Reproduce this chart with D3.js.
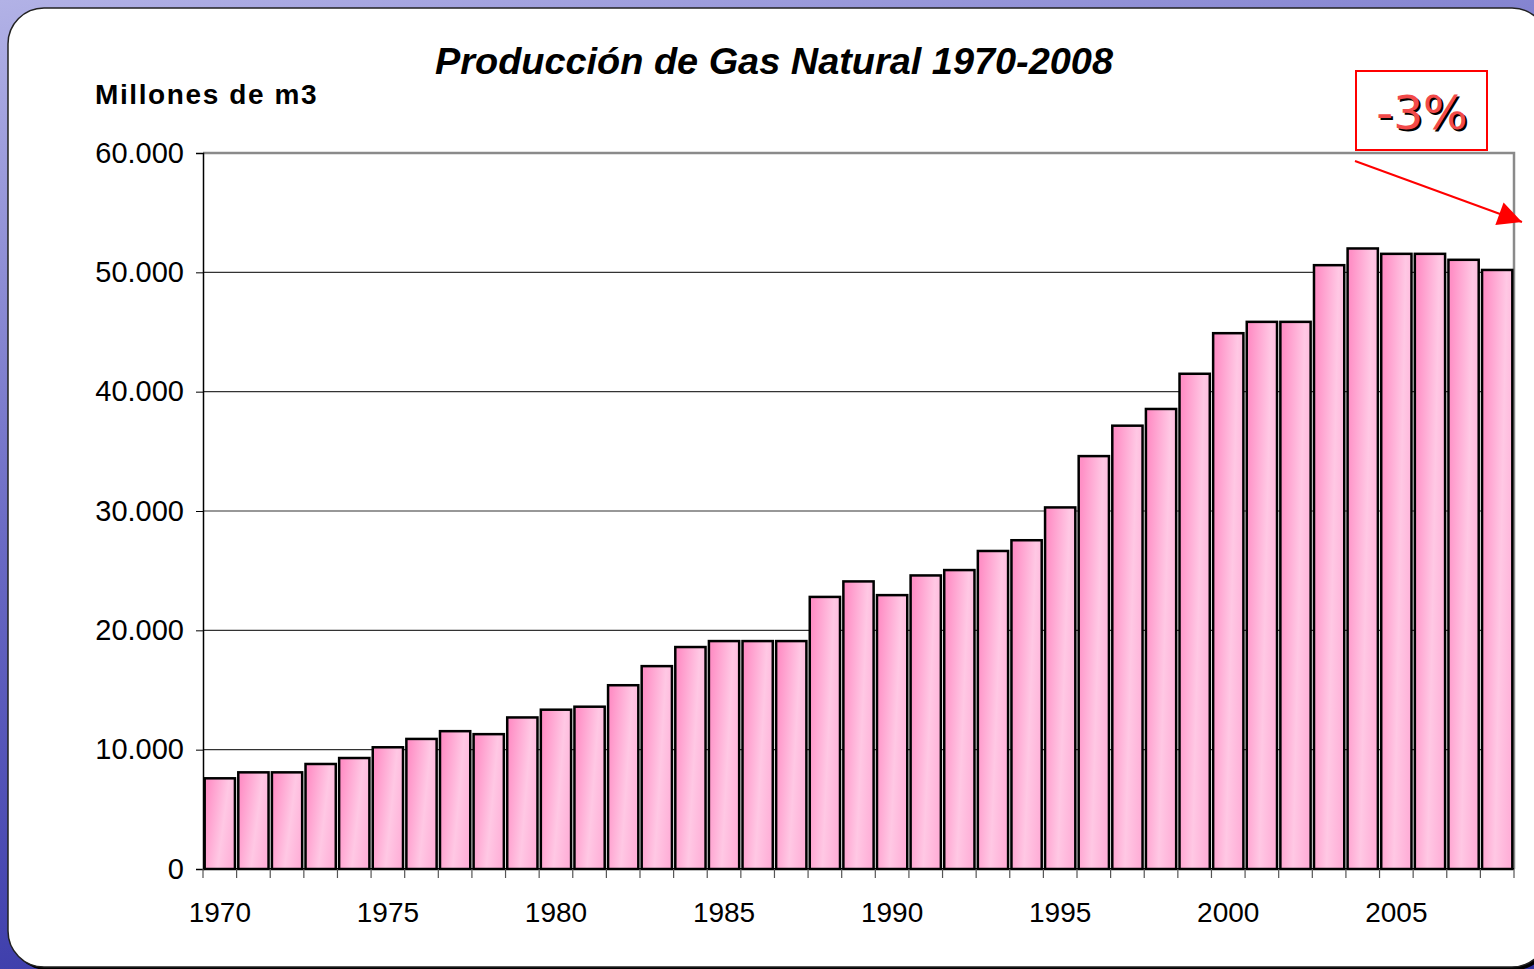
<!DOCTYPE html>
<html>
<head>
<meta charset="utf-8">
<script src="https://cdn.jsdelivr.net/npm/d3@7"></script>
<style>
  html, body { margin: 0; padding: 0; overflow: hidden; }
  svg { display: block; font-family: "Liberation Sans", Arial, sans-serif; }
</style>
</head>
<body>
<svg id="chart" width="1534" height="969"></svg>
<script>
// chart data
const years = d3.range(1970, 2009).map(String);
const production = [
  7600, 8100, 8100, 8800, 9300, 10200, 10900, 11550, 11300, 12700,
  13350, 13600, 15400, 17000, 18600, 19100, 19100, 19100, 22800, 24100,
  22950, 24600, 25050, 26650, 27550, 30300, 34600, 37150, 38550, 41500,
  44900, 45850, 45850, 50600, 52000, 51550, 51550, 51050, 50200
];
const yTicks = [0, 10000, 20000, 30000, 40000, 50000, 60000];
const xLabelYears = ['1970', '1975', '1980', '1985', '1990', '1995', '2000', '2005'];
const title = 'Producción de Gas Natural 1970-2008';
const unitLabel = 'Millones de m3';
const changeLabel = '-3%';

const margin = { top: 153, right: 20, bottom: 100, left: 203 };
const width = 1534, height = 969;
const innerW = 1514 - margin.left;
const innerH = 869 - margin.top;

const svg = d3.select('#chart');
const defs = svg.append('defs');

// background gradient (blue slide)
const bg = defs.append('linearGradient').attr('id', 'bg')
  .attr('x1', 0).attr('y1', 0).attr('x2', 0.35).attr('y2', 1);
bg.append('stop').attr('offset', 0).attr('stop-color', '#b2b2e6');
bg.append('stop').attr('offset', 0.5).attr('stop-color', '#6a6ac4');
bg.append('stop').attr('offset', 1).attr('stop-color', '#3434a6');

// bar gradient
const barGrad = defs.append('linearGradient').attr('id', 'barGrad')
  .attr('x1', 0).attr('y1', 0.3).attr('x2', 1).attr('y2', 0.7);
barGrad.append('stop').attr('offset', 0).attr('stop-color', '#ff90c6');
barGrad.append('stop').attr('offset', 0.6).attr('stop-color', '#ffc8e4');
barGrad.append('stop').attr('offset', 1).attr('stop-color', '#ffb0d8');

defs.append('marker').attr('id', 'arrowHead')
  .attr('viewBox', '0 0 10 10').attr('refX', 10).attr('refY', 5)
  .attr('markerWidth', 30).attr('markerHeight', 24)
  .attr('markerUnits', 'userSpaceOnUse')
  .attr('orient', 'auto')
  .append('path').attr('d', 'M0,0 L10,5 L0,10 Z').attr('fill', '#ff0000');

svg.append('rect').attr('width', width).attr('height', height).attr('fill', 'url(#bg)');

// white card with shadow
svg.append('rect')
  .attr('x', 11).attr('y', 11).attr('width', 1540).attr('height', 959)
  .attr('rx', 36).attr('fill', '#000');
svg.append('rect')
  .attr('x', 8).attr('y', 8).attr('width', 1540).attr('height', 959)
  .attr('rx', 36).attr('fill', '#fff').attr('stroke', '#222').attr('stroke-width', 1.5);

// title and unit
svg.append('text')
  .attr('x', 435).attr('y', 74)
  .attr('textLength', 678).attr('lengthAdjust', 'spacingAndGlyphs')
  .attr('font-size', 36).attr('font-weight', 'bold').attr('font-style', 'italic')
  .text(title);

svg.append('text')
  .attr('x', 95).attr('y', 104)
  .attr('font-size', 28).attr('font-weight', 'bold').attr('letter-spacing', 1.6)
  .text(unitLabel);

const g = svg.append('g').attr('transform', `translate(${margin.left},${margin.top})`);

const x = d3.scaleBand().domain(years).range([0, innerW]).paddingInner(0.1).paddingOuter(0.05);
const y = d3.scaleLinear().domain([0, 60000]).range([innerH, 0]);

// gridlines
g.append('g').selectAll('line')
  .data(yTicks.filter(d => d > 0 && d < 60000))
  .enter().append('line')
  .attr('x1', 0).attr('x2', innerW)
  .attr('y1', d => y(d)).attr('y2', d => y(d))
  .attr('stroke', '#333').attr('stroke-width', 1.2);

// plot frame top and right
g.append('path')
  .attr('d', `M0,0 H${innerW} V${innerH}`)
  .attr('fill', 'none').attr('stroke', '#8a8a8a').attr('stroke-width', 2.5);

// bars
g.append('g').selectAll('rect')
  .data(years)
  .enter().append('rect')
  .attr('x', d => x(d))
  .attr('y', (d, i) => y(production[i]))
  .attr('width', x.bandwidth())
  .attr('height', (d, i) => innerH - y(production[i]))
  .attr('fill', 'url(#barGrad)')
  .attr('stroke', '#000').attr('stroke-width', 2.5);

// y axis
const yAxis = g.append('g')
  .call(d3.axisLeft(y).tickValues(yTicks).tickSize(7).tickPadding(12)
    .tickFormat(d => d === 0 ? '0' : d3.format(',')(d).replace(/,/g, '.')));
yAxis.select('.domain').attr('stroke', '#000').attr('stroke-width', 1.5);
yAxis.selectAll('.tick line').attr('stroke', '#000');
yAxis.selectAll('.tick text')
  .attr('font-size', 29).attr('font-family', '"Liberation Sans", Arial, sans-serif').attr('fill', '#000');

// x axis: ticks between categories, labels every 5 years
const step = x.step();
const x0 = x(years[0]) - x.paddingOuter() * step;
const bounds = d3.range(years.length + 1).map(i => x0 + i * step);
const xAxis = g.append('g').attr('transform', `translate(0,${innerH})`);
xAxis.append('line').attr('x1', 0).attr('x2', innerW).attr('stroke', '#000').attr('stroke-width', 2);
xAxis.selectAll('line.tk')
  .data(bounds)
  .enter().append('line').attr('class', 'tk')
  .attr('x1', d => d).attr('x2', d => d)
  .attr('y1', 0).attr('y2', 9)
  .attr('stroke', '#555').attr('stroke-width', 1.2);
xAxis.selectAll('text')
  .data(xLabelYears)
  .enter().append('text')
  .attr('x', d => x(d) + x.bandwidth() / 2)
  .attr('y', 53)
  .attr('text-anchor', 'middle')
  .attr('font-size', 28)
  .text(d => d);

// -3% annotation
svg.append('rect')
  .attr('x', 1356).attr('y', 71).attr('width', 131).attr('height', 79)
  .attr('fill', 'none').attr('stroke', '#ff0000').attr('stroke-width', 2);
const ann = svg.append('g').attr('font-family', '"DejaVu Sans", Verdana, sans-serif')
  .attr('font-size', 47).attr('text-anchor', 'middle');
ann.append('text').attr('x', 1424).attr('y', 131).attr('fill', '#000').text(changeLabel);
ann.append('text').attr('x', 1422).attr('y', 129).attr('fill', '#f24a4a').text(changeLabel);

svg.append('line')
  .attr('x1', 1355).attr('y1', 161).attr('x2', 1522).attr('y2', 222)
  .attr('stroke', '#ff0000').attr('stroke-width', 2)
  .attr('marker-end', 'url(#arrowHead)');
</script>
</body>
</html>
